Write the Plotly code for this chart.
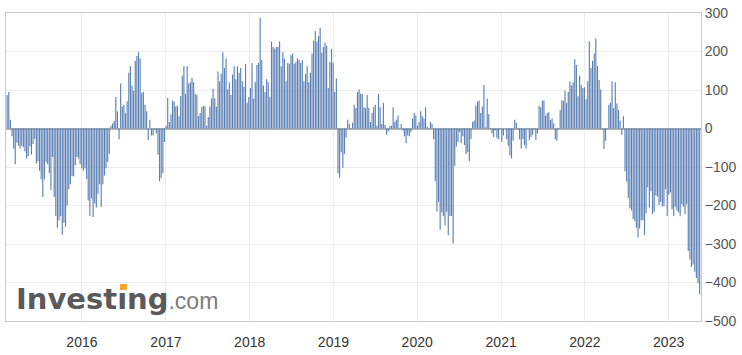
import pandas as pd
import plotly.graph_objects as go

# Weekly values, split by stretch of time
seg_2015 = [87, 95, 23, -20, -52, -93, -37, -45, -52, -45, -49, -60, -78, -72, -47, -68, -40,
            -27, -91, -85, -110, -132, -178, -132, -87, -93, -116, -160, -74, -178, -227, -258,
            -238, -228, -276, -245, -255, -200, -158, -145, -124, -124, -95, -74, -78, -93,
            -103, -110, -103, -132, -187, -227, -182, -230, -195, -205, -170, -145, -203, -145,
            -122, -103, -87, -66, 7, 13, 20, 82, 45]
seg_2016 = [-28, 117, 57, 62, 40, 70, 145, 162, 112, 98, 176, 188, 198, 182, 92, 95, 62, 45,
            -30, 23, -18, -18, -3, -13, -68, -137, -128, -116, -35, 7, 80, 17, 37, 73, 70, 57,
            59, 32, 84, 137, 162, 90, 162, 117, 120, 132, 120, 90, 87, 32, 40, 55, 59, 57, 7,
            30, 57, 78, 103, 78, 57, 148, 123, 142, 198, 157, 182, 101, 120, 87, 140, 162]
seg_2018 = [128, 162, 145, 157, 123, 109, 168, 67, 82, 105, 170, 78, 120, 165, 170, 287, 178,
            112, 95, 128, 120, 82, 226, 212, 207, 212, 212, 226, 162, 198, 182, 123, 170, 168,
            190, 195, 168, 172, 182, 178, 170, 178, 123, 142, 162, 120, 145, 195, 228, 253, 226,
            240, 262, 197, 212, 223, 215, 105, 173, 207, 170, 95, 130, -116, -128, -62, -102,
            -66, -24, 23, 12]
seg_2019 = [-2, 15, 62, 53, 95, 101, 90, 90, 55, 53, 87, 53, 17, 40, 55, 62, 7, 90, 55, 12, 67,
            9, -16, -8, 7, 7, 55, 17, 23, 34, 1, 12, -5, -20, -38, -18, -20, -10, 26, 40, 34, 7,
            17, 45, 32, 26, 55, 5, -2, 17, 12, -28, -137, -216, -191, -263, -218, -228, -252,
            -216, -277, -227, -227, -299, -97, -47, -35, -10, -38, -20, -43]
seg_2020 = [-66, -62, -85, -27, 17, 20, 59, 70, 73, 40, 57, 113, 3, 78, 37, -2, -13, -22, -5,
            -24, -28, -2, -35, -18, 1, -28, -45, -70, -78, -32, 23, 15, -3, -28, -52, -28, -43,
            -52, 1, -30, -22, -16, -2, -30, -13, 59, 55, 73, 73, 34, 40, 42, 22, 26, 13, -28,
            -32, -2, 48, 73, 72, 98, 67, 95, 123, 112, 120, 180, 165, 84, 137, 113]
seg_2022 = [105, 107, 76, 123, 226, 157, 176, 195, 234, 162, 126, 101, -2, -53, -32, -2, 62, 67,
            123, 53, 120, 65, 48, 20, -16, 32, -112, -138, -180, -208, -213, -235, -241, -258,
            -283, -260, -238, -238, -277, -220, -153, -205, -163, -222, -216, -174, -177, -199,
            -191, -202, -202, -158, -227, -172, -166, -210, -227, -203, -213, -218, -228, -197,
            -203, -222, -197, -318, -341, -360, -353, -372, -388, -402, -430]

values = seg_2015 + seg_2016 + seg_2018 + seg_2019 + seg_2020 + seg_2022
first_date = "2015-02-09"
last_date = "2023-05-16"
dates = pd.date_range(first_date, last_date, periods=len(values))

year_ticks = ["2016-01-01", "2017-01-01", "2018-01-01", "2019-01-01",
              "2020-01-01", "2021-01-01", "2022-01-01", "2023-01-01"]
year_labels = ["2016", "2017", "2018", "2019", "2020", "2021", "2022", "2023"]
y_ticks = [300, 200, 100, 0, -100, -200, -300, -400, -500]

fig = go.Figure()
fig.add_trace(go.Bar(x=dates, y=values,
                     marker=dict(color="rgba(88,125,179,0.99)", line=dict(width=0)),
                     hoverinfo="x+y"))

font_family = "Arial, Liberation Sans, sans-serif"
fig.update_layout(
    width=742, height=355,
    margin=dict(l=6, r=37, t=5, b=30),
    paper_bgcolor="white", plot_bgcolor="white",
    bargap=0.3, showlegend=False,
    font=dict(family=font_family),
    xaxis=dict(
        type="date", range=["2015-02-04", "2023-05-22"],
        tickvals=year_ticks, ticktext=year_labels,
        showgrid=True, gridcolor="#ececec", gridwidth=1,
        showline=True, mirror=True, linecolor="#c8c8c8", linewidth=1,
        ticks="", ticklabelstandoff=8,
        tickfont=dict(size=14, color="#333333", family=font_family),
        zeroline=False,
    ),
    yaxis=dict(
        side="right", range=[-500, 300], tickvals=y_ticks,
        showgrid=True, gridcolor="#ececec", gridwidth=1,
        showline=True, mirror=True, linecolor="#c8c8c8", linewidth=1,
        zeroline=True, zerolinecolor="#b4b4b4", zerolinewidth=2,
        ticks="", ticklabeloverflow="allow",
        tickfont=dict(size=14, color="#555555", family=font_family),
    ),
)

# Investing.com watermark
fig.add_annotation(
    xref="paper", yref="paper", x=0.011, y=0.07, xanchor="left", yanchor="middle",
    text=("<span style='color:#5a5a5a;font-weight:bold;font-family:DejaVu Sans;font-size:29px'>Investıng</span>"
          "<span style='color:#7d7d7d;font-family:Liberation Sans;font-size:23px'>.com</span>"),
    showarrow=False, font=dict(family="DejaVu Sans, sans-serif", size=29),
)
fig.add_shape(type="rect", xref="paper", yref="paper",
              x0=0.164, x1=0.174, y0=0.101, y1=0.12,
              fillcolor="#f5a623", line=dict(width=0))

fig.write_html("out.html")
